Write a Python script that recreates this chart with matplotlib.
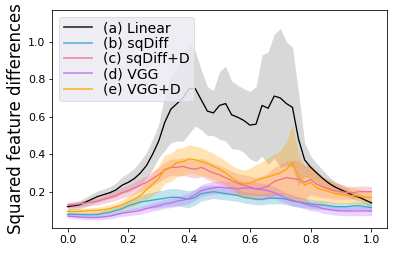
import numpy as np
import matplotlib
matplotlib.use("Agg")
import matplotlib.pyplot as plt

x_vals = np.round(np.arange(51) * 0.02, 2)

labels = ["(a) Linear", "(b) sqDiff", "(c) sqDiff+D", "(d) VGG", "(e) VGG+D"]

linear_mean = [0.12, 0.125, 0.13, 0.145, 0.16, 0.175, 0.185, 0.195, 0.21, 0.235,
               0.25, 0.27, 0.30, 0.34, 0.40, 0.47, 0.57, 0.64, 0.67, 0.70,
               0.75, 0.75, 0.69, 0.63, 0.62, 0.66, 0.67, 0.61, 0.597, 0.58,
               0.555, 0.56, 0.66, 0.645, 0.71, 0.70, 0.67, 0.65, 0.48, 0.37,
               0.33, 0.30, 0.27, 0.245, 0.225, 0.21, 0.195, 0.18, 0.17, 0.155,
               0.14]
linear_std = [0.018, 0.02, 0.022, 0.025, 0.028, 0.03, 0.03, 0.032, 0.037, 0.045,
              0.05, 0.055, 0.065, 0.07, 0.08, 0.09, 0.15, 0.18, 0.20, 0.23,
              0.24, 0.20, 0.16, 0.13, 0.12, 0.18, 0.20, 0.18, 0.17, 0.17,
              0.18, 0.20, 0.27, 0.30, 0.33, 0.37, 0.33, 0.32, 0.25, 0.09,
              0.06, 0.05, 0.045, 0.035, 0.03, 0.025, 0.022, 0.02, 0.02, 0.022,
              0.025]

sqdiff_mean = [0.08, 0.08, 0.078, 0.077, 0.077, 0.078, 0.085, 0.09, 0.10, 0.11,
               0.125, 0.135, 0.145, 0.15, 0.155, 0.16, 0.165, 0.17, 0.17, 0.165,
               0.16, 0.17, 0.19, 0.195, 0.20, 0.195, 0.19, 0.185, 0.18, 0.17,
               0.165, 0.16, 0.16, 0.165, 0.165, 0.165, 0.16, 0.15, 0.145, 0.14,
               0.135, 0.13, 0.13, 0.125, 0.12, 0.12, 0.12, 0.125, 0.125, 0.12,
               0.115]
sqdiff_std = [0.012, 0.012, 0.013, 0.014, 0.015, 0.016, 0.018, 0.02, 0.022, 0.025,
              0.028, 0.032, 0.036, 0.04, 0.043, 0.045, 0.046, 0.047, 0.047, 0.046,
              0.045, 0.042, 0.04, 0.038, 0.036, 0.035, 0.034, 0.033, 0.032, 0.031,
              0.03, 0.03, 0.03, 0.03, 0.03, 0.03, 0.029, 0.028, 0.027, 0.026,
              0.025, 0.024, 0.023, 0.022, 0.022, 0.021, 0.021, 0.02, 0.02, 0.02,
              0.02]

sqdiffd_mean = [0.13, 0.13, 0.135, 0.14, 0.145, 0.15, 0.16, 0.17, 0.18, 0.195,
                0.205, 0.22, 0.235, 0.25, 0.27, 0.29, 0.315, 0.33, 0.33, 0.335,
                0.325, 0.32, 0.33, 0.315, 0.30, 0.29, 0.275, 0.26, 0.245, 0.235,
                0.225, 0.215, 0.22, 0.23, 0.255, 0.265, 0.275, 0.27, 0.265, 0.25,
                0.265, 0.24, 0.225, 0.215, 0.205, 0.20, 0.195, 0.195, 0.20, 0.20,
                0.20]
sqdiffd_std = [0.015, 0.015, 0.016, 0.017, 0.018, 0.02, 0.022, 0.024, 0.026, 0.028,
               0.03, 0.032, 0.034, 0.036, 0.038, 0.04, 0.042, 0.044, 0.045, 0.046,
               0.047, 0.048, 0.05, 0.05, 0.05, 0.05, 0.05, 0.05, 0.052, 0.055,
               0.058, 0.06, 0.065, 0.07, 0.075, 0.08, 0.09, 0.10, 0.10, 0.09,
               0.08, 0.065, 0.055, 0.05, 0.045, 0.04, 0.035, 0.033, 0.03, 0.03,
               0.03]

vgg_mean = [0.07, 0.068, 0.065, 0.063, 0.062, 0.063, 0.066, 0.07, 0.078, 0.085,
            0.09, 0.095, 0.10, 0.11, 0.118, 0.125, 0.135, 0.14, 0.15, 0.155,
            0.165, 0.185, 0.205, 0.215, 0.22, 0.225, 0.22, 0.22, 0.215, 0.22,
            0.22, 0.215, 0.21, 0.205, 0.195, 0.18, 0.165, 0.155, 0.145, 0.135,
            0.125, 0.12, 0.11, 0.105, 0.10, 0.098, 0.097, 0.097, 0.097, 0.097,
            0.097]
vgg_std = [0.012, 0.012, 0.012, 0.012, 0.012, 0.013, 0.014, 0.015, 0.016, 0.017,
           0.018, 0.019, 0.02, 0.021, 0.022, 0.023, 0.024, 0.025, 0.026, 0.027,
           0.028, 0.03, 0.032, 0.033, 0.034, 0.035, 0.035, 0.035, 0.035, 0.035,
           0.035, 0.035, 0.034, 0.033, 0.032, 0.031, 0.03, 0.029, 0.028, 0.027,
           0.026, 0.025, 0.025, 0.025, 0.025, 0.025, 0.025, 0.025, 0.025, 0.025,
           0.025]

vggd_mean = [0.095, 0.095, 0.095, 0.098, 0.10, 0.10, 0.105, 0.11, 0.12, 0.13,
             0.145, 0.16, 0.18, 0.21, 0.24, 0.27, 0.32, 0.33, 0.355, 0.36,
             0.375, 0.37, 0.36, 0.35, 0.335, 0.32, 0.30, 0.275, 0.255, 0.24,
             0.245, 0.26, 0.27, 0.28, 0.29, 0.30, 0.32, 0.355, 0.28, 0.235,
             0.25, 0.22, 0.21, 0.20, 0.19, 0.185, 0.18, 0.18, 0.175, 0.17,
             0.17]
vggd_std = [0.015, 0.015, 0.015, 0.015, 0.016, 0.017, 0.018, 0.02, 0.022, 0.025,
            0.03, 0.035, 0.04, 0.05, 0.06, 0.07, 0.075, 0.075, 0.075, 0.075,
            0.075, 0.075, 0.075, 0.07, 0.07, 0.065, 0.065, 0.065, 0.07, 0.075,
            0.08, 0.085, 0.09, 0.10, 0.11, 0.12, 0.15, 0.20, 0.13, 0.10,
            0.09, 0.08, 0.07, 0.06, 0.055, 0.05, 0.045, 0.04, 0.04, 0.035,
            0.035]

series = [
    (linear_mean, linear_std, "black", "gray"),
    (sqdiff_mean, sqdiff_std, "#3aa8c8", "#3aa8c8"),
    (sqdiffd_mean, sqdiffd_std, "#f2708f", "#f2708f"),
    (vgg_mean, vgg_std, "#c36ef2", "#c36ef2"),
    (vggd_mean, vggd_std, "#ffa500", "#ffa500"),
]

fig = plt.figure(figsize=(394 / 72, 255 / 72), dpi=72)
ax = fig.add_axes([52.3 / 394, 1 - 227.7 / 255, (386.7 - 52.3) / 394, (227.7 - 10) / 255])

for (m, s, lc, fc), lab in zip(series, labels):
    m = np.asarray(m)
    s = np.asarray(s)
    ax.fill_between(x_vals, m - s, m + s, color=fc, alpha=0.3, linewidth=0)
    ax.plot(x_vals, m, color=lc, lw=1.3, label=lab)

ax.set_xlim(-0.05, 1.05)
ax.set_ylim(0.008, 1.169)
ax.set_xticks([0.0, 0.2, 0.4, 0.6, 0.8, 1.0])
ax.set_yticks([0.2, 0.4, 0.6, 0.8, 1.0])
ax.tick_params(labelsize=11)
ax.set_ylabel("Squared feature differences", fontsize=16.5, labelpad=3)

leg = ax.legend(loc="upper left", fontsize=14, labelspacing=0.1,
                facecolor="#eaeaf2", edgecolor="#d8d8e0", framealpha=0.85,
                borderpad=0.3, handletextpad=0.8)
for h in leg.legend_handles:
    h.set_alpha(0.75)
    h.set_linewidth(1.8)

fig.savefig("out.png", dpi=72)
